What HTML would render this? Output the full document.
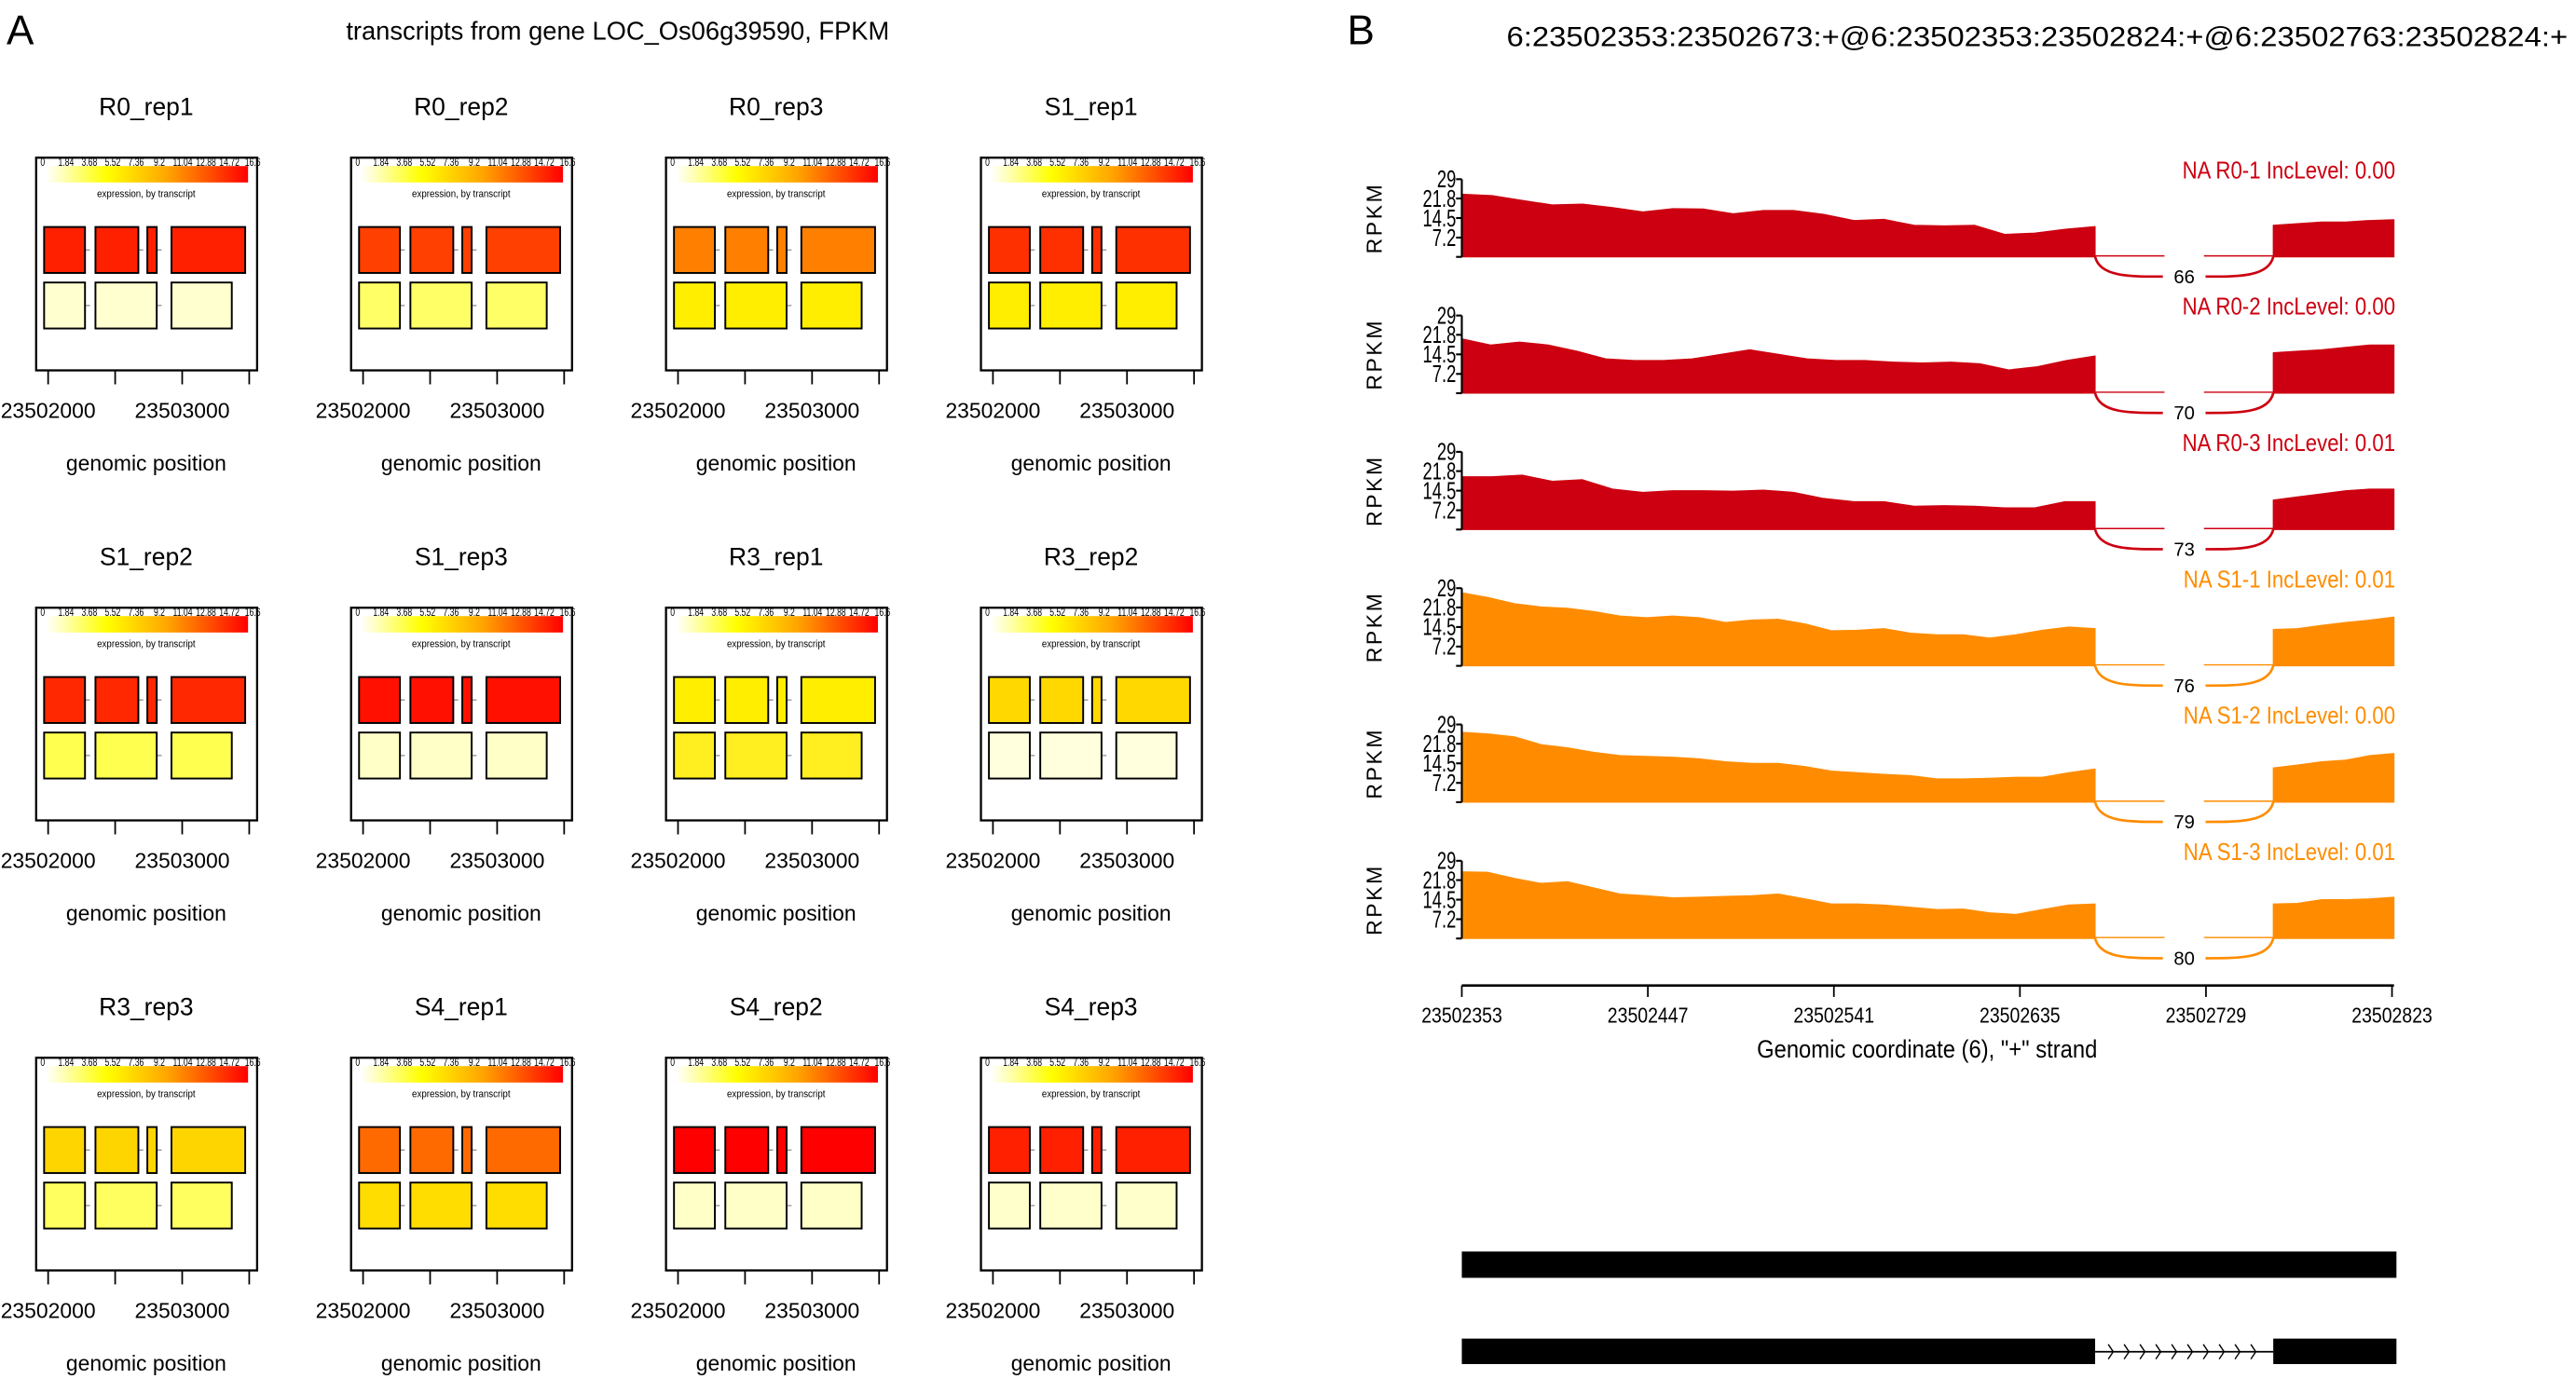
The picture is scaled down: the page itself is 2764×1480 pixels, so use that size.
<!DOCTYPE html>
<html><head><meta charset="utf-8">
<style>
html,body{margin:0;padding:0;background:#fff;}
svg{display:block;font-family:"Liberation Sans",sans-serif;}
</style></head>
<body>
<svg id="fig" width="2764" height="1480" viewBox="0 0 1568 839.6" preserveAspectRatio="none" xmlns="http://www.w3.org/2000/svg">
<defs>
<linearGradient id="heat" x1="0" x2="1" y1="0" y2="0">
<stop offset="0" stop-color="#ffffff"/>
<stop offset="0.3" stop-color="#ffff00"/>
<stop offset="0.6" stop-color="#ffa500"/>
<stop offset="1" stop-color="#ff0000"/>
</linearGradient>
</defs>
<text x="4" y="27" font-size="25">A</text>
<text x="376" y="24" font-size="15.5" text-anchor="middle">transcripts from gene LOC_Os06g39590, FPKM</text>
<text x="820" y="27" font-size="25">B</text>
<text x="917" y="28" font-size="17" textLength="646" lengthAdjust="spacingAndGlyphs">6:23502353:23502673:+@6:23502353:23502824:+@6:23502763:23502824:+</text>
<g id="panelA"></g>
<g id="panelB"></g>
</svg>
<script>
// ---- Panel A data ----
const panelNames = ["R0_rep1","R0_rep2","R0_rep3","S1_rep1","S1_rep2","S1_rep3","R3_rep1","R3_rep2","R3_rep3","S4_rep1","S4_rep2","S4_rep3"];
const topColors = ["#ff2000","#ff4000","#ff8000","#ff3000","#ff2800","#ff1000","#ffee00","#ffd800","#ffd500","#ff6a00","#ff0000","#ff2000"];
const botColors = ["#ffffd0","#ffff66","#ffee00","#ffee00","#ffff50","#ffffc8","#ffee20","#ffffdd","#ffff60","#ffdd00","#ffffc8","#ffffcc"];
const scaleLabels = ["0","1.84","3.68","5.52","7.36","9.2","11.04","12.88","14.72","16.6"];
const axisTicksA = [23502000,23502500,23503000,23503500];
const axisLabelsA = [23502000,23503000];
const tx1Exons = [[23501970,23502275],[23502353,23502673],[23502740,23502810],[23502920,23503470]];
const tx2Exons = [[23501970,23502275],[23502353,23502810],[23502920,23503370]];

// ---- Panel B data ----
const sampleNames = ["NA R0-1 IncLevel: 0.00","NA R0-2 IncLevel: 0.00","NA R0-3 IncLevel: 0.01","NA S1-1 IncLevel: 0.01","NA S1-2 IncLevel: 0.00","NA S1-3 IncLevel: 0.01"];
const sampleColors = ["#cc0010","#cc0010","#cc0010","#ff8c00","#ff8c00","#ff8c00"];
const junctionCounts = [66,70,73,76,79,80];
const exon1Cov = [
 [23.4,22.9,21.1,19.4,19.7,18.4,16.8,18.0,17.9,16.1,17.3,17.3,15.9,13.6,14.0,11.8,11.6,11.8,8.4,8.9,10.3,11.3],
 [20.3,18.0,19.1,18.0,15.7,12.8,12.2,12.2,12.8,14.5,16.2,14.5,12.8,12.2,12.2,11.6,11.3,11.6,11.0,8.7,9.9,12.2,13.9],
 [19.7,19.7,20.3,18.0,18.6,15.1,13.9,14.5,14.5,14.3,14.7,13.9,11.6,10.4,10.4,8.7,8.9,8.7,8.1,8.1,10.4,10.4],
 [27.3,25.5,23.2,22.0,21.5,20.3,18.6,18.0,18.6,18.0,16.2,17.1,17.4,15.7,13.1,13.3,13.9,12.2,11.6,11.6,10.4,11.6,13.3,14.5,13.9],
 [26.1,25.5,24.4,21.5,20.3,18.6,17.4,17.1,16.8,16.2,15.1,14.5,14.5,13.3,11.6,11.0,10.4,9.9,8.7,8.7,8.9,9.3,9.3,11.0,12.4],
 [24.9,24.7,22.4,20.6,21.2,18.9,16.6,16.0,15.2,15.4,15.7,16.0,16.6,14.8,12.9,12.9,12.5,11.7,10.8,11.0,9.6,9.0,10.8,12.5,12.9]
];
const exon2Cov = [
 [11.8,12.4,13.0,13.0,13.6,13.9],
 [15.1,15.7,16.2,17.1,18.0,18.0],
 [11.0,12.2,13.3,14.5,15.1,15.1],
 [13.6,13.9,15.1,16.2,17.1,18.2],
 [12.8,13.9,15.1,15.7,17.4,18.2],
 [12.9,13.1,14.5,14.5,14.8,15.4]
];
const yTicksB = [0,7.2,14.5,21.8,29];
const xTicksB = [23502353,23502447,23502541,23502635,23502729,23502823];
const exonsB = [[23502353,23502673],[23502763,23502824]];
const isoformA = [[23502353,23502824]];

const NS = "http://www.w3.org/2000/svg";
function mk(tag, attrs, parent, text){
  const e = document.createElementNS(NS, tag);
  for (const k in attrs) e.setAttribute(k, attrs[k]);
  if (text !== undefined) e.textContent = text;
  parent.appendChild(e);
  return e;
}

// ---------- Panel A ----------
const pA = document.getElementById("panelA");
panelNames.forEach((name, i) => {
  const col = i % 4, row = Math.floor(i / 4);
  const bx = 22 + col * 191.7, by = 96 + row * 274;
  const bw = 134.5, bh = 129.5;
  const gx = g => bx + 7.3 + (g - 23502000) / 1000 * 81.6;
  const g = mk("g", {}, pA);
  
  
  const t = mk("text", {x: bx + 67, y: by - 26, "font-size": 15, "text-anchor": "middle"}, g, name);
  
  
  const box = mk("rect", {x: bx, y: by, width: bw, height: bh, fill: "#fff", stroke: "#000", "stroke-width": 1.3}, g);
  
  
  const cb = mk("rect", {x: bx + 6, y: by + 5.1, width: 123, height: 10, fill: "url(#heat)"}, g);
  
  
  scaleLabels.forEach((s, k) => {
    const lx = bx + 4 + k * 14.2;
    const st = mk("text", {x: lx, y: by + 5, "font-size": 7, "text-anchor": "middle", transform: `translate(${lx},0) scale(0.7,1) translate(${-lx},0)`}, g, s);
    
    
  });
  const et = mk("text", {x: bx + 67, y: by + 24, "font-size": 6.5, "text-anchor": "middle", transform: `translate(${bx+67},0) scale(0.85,1) translate(${-(bx+67)},0)`}, g, "expression, by transcript");
  
  
  [[tx1Exons, topColors[i], 42.2], [tx2Exons, botColors[i], 76]].forEach(([exs, c, oy], r) => {
    for (let k = 0; k < exs.length - 1; k++) {
      const ln = mk("line", {x1: gx(exs[k][1]), x2: gx(exs[k][1]) + 3, y1: by + oy + 14, y2: by + oy + 14, stroke: "#999", "stroke-width": 0.8}, g);
      
      
    }
    exs.forEach(e => {
      const rc = mk("rect", {x: gx(e[0]), y: by + oy, width: gx(e[1]) - gx(e[0]), height: 28, fill: c, stroke: "#000", "stroke-width": 1.1}, g);
      
      
    });
  });
  axisTicksA.forEach(v => {
    const tk = mk("line", {x1: gx(v), x2: gx(v), y1: by + bh, y2: by + bh + 8.5, stroke: "#000", "stroke-width": 1}, g);
    
    
  });
  axisLabelsA.forEach(v => {
    const tl = mk("text", {x: gx(v), y: by + bh + 29, "font-size": 13, "text-anchor": "middle"}, g, String(v));
    
    
  });
  const xl = mk("text", {x: bx + 67, y: by + bh + 61, "font-size": 13, "text-anchor": "middle"}, g, "genomic position");
  
  
});

// ---------- Panel B ----------
const pB = document.getElementById("panelB");
const X0 = 889.8, X1 = 1456, G0 = 23502353, G1 = 23502823;
const xB = gv => X0 + (gv - G0) / (G1 - G0) * (X1 - X0);
const H = 47.3, YMAX = 29;
sampleNames.forEach((nm, i) => {
  const base = 156.4 + 83 * i;
  const yv = v => base - v / YMAX * H;
  const c = sampleColors[i];
  const g = mk("g", {}, pB);
  
  
  [[exon1Cov[i], exonsB[0]], [exon2Cov[i], exonsB[1]]].forEach(([vals, ex], k) => {
    const xa = xB(ex[0]), xb = xB(ex[1]);
    let d = "M" + xa + "," + base;
    vals.forEach((v, j) => {
      const x = xa + (xb - xa) * j / (vals.length - 1);
      d += " L" + x.toFixed(2) + "," + yv(v).toFixed(2);
    });
    d += " L" + xb + "," + base + " Z";
    const p = mk("path", {d: d, fill: c, stroke: c, "stroke-width": 0.6, "stroke-linejoin": "round"}, g);
    
    
  });
  const xe = xB(exonsB[0][1]), xs = xB(exonsB[1][0]), xm = (xe + xs) / 2;
  [[xe, xm - 12], [xm + 12, xs]].forEach(seg => {
    const l = mk("line", {x1: seg[0], x2: seg[1], y1: base - 0.6, y2: base - 0.6, stroke: c, "stroke-width": 0.8}, g);
    
    
  });
  const dy = 12;
  const arc = mk("path", {d: `M${xe},${base} C${xe+3},${base+dy} ${xe+20},${base+dy} ${xm-13},${base+dy} M${xm+13},${base+dy} C${xs-20},${base+dy} ${xs-3},${base+dy} ${xs},${base}`, fill: "none", stroke: c, "stroke-width": 1.5}, g);
  
  
  const jc = mk("text", {x: xm, y: base + dy + 4, "font-size": 11.5, "text-anchor": "middle"}, g, String(junctionCounts[i]));
  
  
  const ya = mk("line", {x1: X0, x2: X0, y1: yv(YMAX), y2: base, stroke: "#000", "stroke-width": 1.2}, g);
  
  
  yTicksB.forEach(v => {
    const tk = mk("line", {x1: X0 - 3.5, x2: X0, y1: yv(v), y2: yv(v), stroke: "#000", "stroke-width": 1.2}, g);
    
    
    if (v > 0) {
      const tl = mk("text", {x: X0 - 3.5, y: yv(v) + 5, "font-size": 14.5, "text-anchor": "end", transform: `translate(${X0-3.5},0) scale(0.72,1) translate(${-(X0-3.5)},0)`}, g, String(v));
      
      
    }
  });
  const yl = mk("text", {x: 0, y: 0, "font-size": 13, "text-anchor": "middle", "letter-spacing": "1.5", transform: `translate(841,${base - H/2}) rotate(-90)`}, g, "RPKM");
  
  
  const sl = mk("text", {x: 1458, y: base - H - 0.5, "font-size": 14.5, "text-anchor": "end", fill: c, transform: `translate(1458,0) scale(0.87,1) translate(-1458,0)`}, g, nm);
  
  
});
const xa = mk("line", {x1: X0, x2: xB(23502824), y1: 600, y2: 600, stroke: "#000", "stroke-width": 1.5}, pB);


xTicksB.forEach(v => {
  const tk = mk("line", {x1: xB(v), x2: xB(v), y1: 600, y2: 607, stroke: "#000", "stroke-width": 1}, pB);
  
  
  const tl = mk("text", {x: xB(v), y: 622.5, "font-size": 13, "text-anchor": "middle", transform: `translate(${xB(v)},0) scale(0.85,1) translate(${-xB(v)},0)`}, pB, String(v));
  
  
});
const xt = mk("text", {x: 1173, y: 644, "font-size": 15, "text-anchor": "middle", transform: "translate(1173,0) scale(0.9,1) translate(-1173,0)"}, pB, 'Genomic coordinate (6), "+" strand');


isoformA.forEach(e => {
  const r = mk("rect", {x: xB(e[0]), y: 762, width: xB(e[1]) - xB(e[0]) + 1.5, height: 16, fill: "#000"}, pB);
  
  
});
const e1 = xB(exonsB[0][1]), e2 = xB(exonsB[1][0]);
const il = mk("line", {x1: e1, x2: e2, y1: 823, y2: 823, stroke: "#000", "stroke-width": 1}, pB);


for (let k = 0; k < 10; k++) {
  const cx = e1 + 8 + k * (e2 - e1 - 12) / 10;
  const ch = mk("path", {d: `M${cx},818.5 L${cx+3},823 L${cx},827.5`, fill: "none", stroke: "#000", "stroke-width": 0.8}, pB);
  
  
}
exonsB.forEach(e => {
  const r = mk("rect", {x: xB(e[0]), y: 815, width: xB(e[1]) - xB(e[0]) + (e[1] > 23502800 ? 1.5 : 0), height: 15.5, fill: "#000"}, pB);
  
  
});
</script>
</body></html>
